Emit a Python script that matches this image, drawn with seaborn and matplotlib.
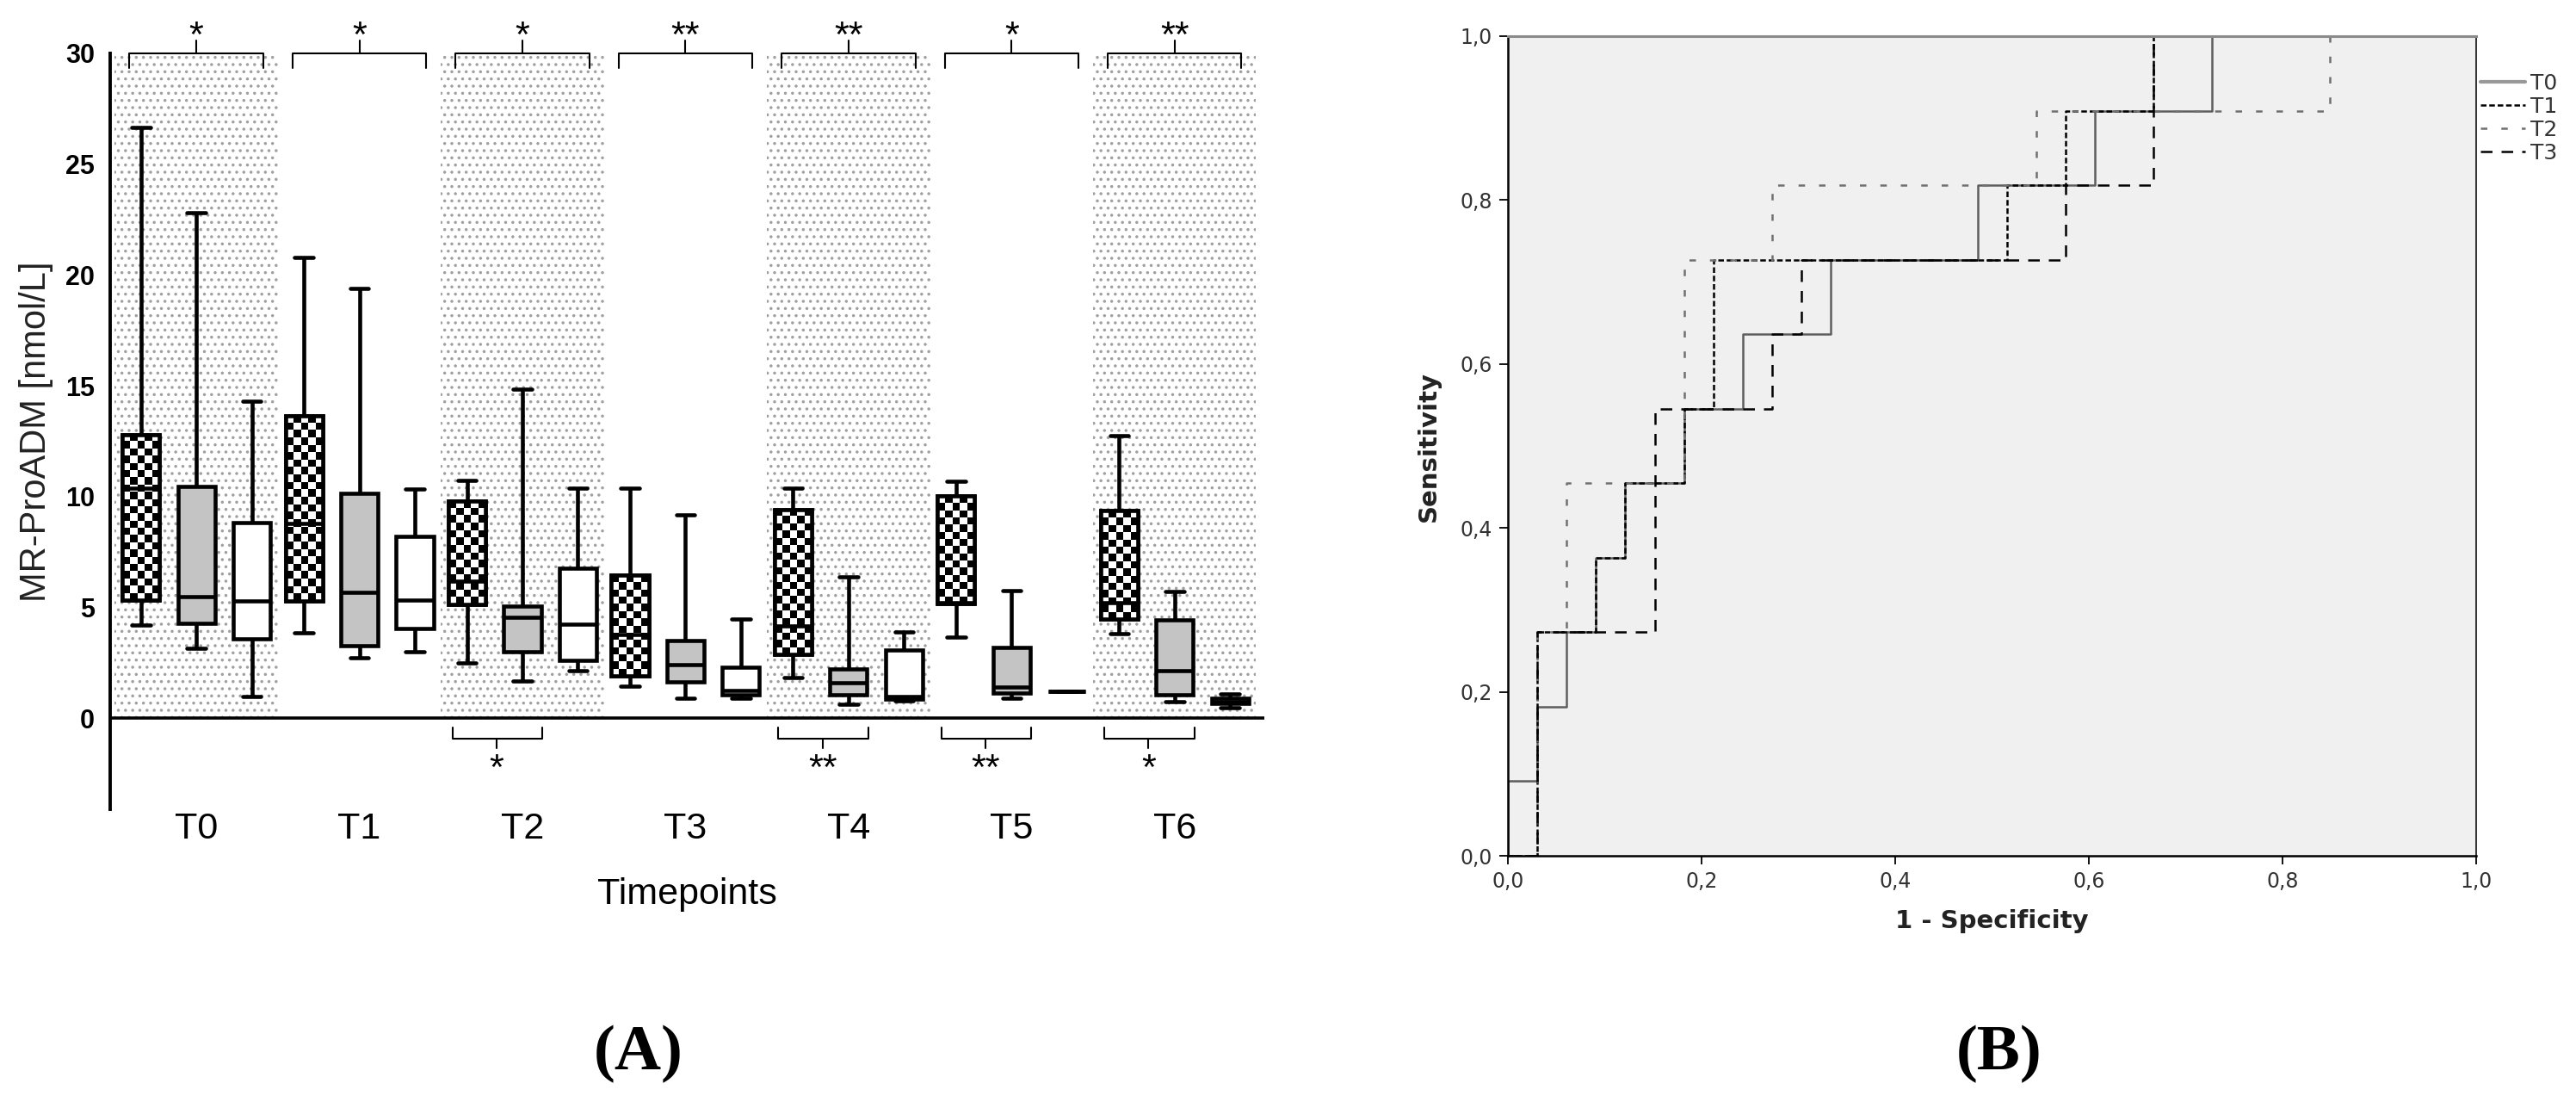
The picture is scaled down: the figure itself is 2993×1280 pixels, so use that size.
import numpy as np
import pandas as pd
import seaborn as sns
import matplotlib.pyplot as plt
from matplotlib.patches import PathPatch

sns.set_style('white')
plt.rcParams['font.family'] = ['Liberation Sans', 'DejaVu Sans']
plt.rcParams['hatch.linewidth'] = 1.3
plt.rcParams['text.color'] = 'black'
plt.rcParams['axes.labelcolor'] = 'black'
plt.rcParams['xtick.color'] = 'black'
plt.rcParams['ytick.color'] = 'black'

# ---------------- panel A data ----------------
timepoints = ['T0', 'T1', 'T2', 'T3', 'T4', 'T5', 'T6']
groups = ['G1', 'G2', 'G3']

# five-number summaries: min, q1, median, q3, max
g1_stats = [
    [4.2, 5.33, 10.4, 12.8, 26.65],
    [3.85, 5.3, 8.8, 13.66, 20.8],
    [2.49, 5.15, 6.19, 9.82, 10.73],
    [1.45, 1.91, 3.79, 6.45, 10.4],
    [1.84, 2.88, 4.18, 9.43, 10.4],
    [3.66, 5.19, 5.21, 10.04, 10.69],
    [3.81, 4.5, 5.21, 9.36, 12.74],
]
g2_stats = [
    [3.15, 4.3, 5.5, 10.47, 22.8],
    [2.75, 3.27, 5.7, 10.15, 19.4],
    [1.69, 3.01, 4.55, 5.08, 14.86],
    [0.93, 1.65, 2.42, 3.53, 9.17],
    [0.62, 1.06, 1.6, 2.23, 6.38],
    [0.93, 1.15, 1.4, 3.2, 5.76],
    [0.74, 1.06, 2.17, 4.44, 5.71],
]
g3_stats = [
    [1.0, 3.6, 5.3, 8.85, 14.3],
    [3.0, 4.05, 5.35, 8.2, 10.35],
    [2.17, 2.62, 4.24, 6.77, 10.4],
    [0.93, 1.06, 1.26, 2.3, 4.5],
    [0.8, 0.87, 1.0, 3.07, 3.92],
    [0.44, 1.22, 1.22, 1.22, 1.97],
    [0.48, 0.67, 0.77, 0.93, 1.09],
]
shaded_tps = ['T0', 'T2', 'T4', 'T6']
top_stars = ['*', '*', '*', '**', '**', '*', '**']
bottom_star_tps = ['T2', 'T4', 'T5', 'T6']
bottom_stars = ['*', '**', '**', '*']

# ---------------- panel B data (ROC, 33 negatives / 11 positives) ----------------
n_neg, n_pos = 33, 11
roc_fp = {
    'T0': [0, 0, 1, 1, 2, 2, 3, 3, 4, 4, 6, 6, 8, 8, 11, 11, 16, 16, 20, 20, 24, 24, 33],
    'T1': [0, 1, 1, 3, 3, 4, 4, 6, 6, 7, 7, 17, 17, 19, 19, 22, 22, 33],
    'T2': [0, 1, 1, 2, 2, 6, 6, 9, 9, 18, 18, 28, 28, 33],
    'T3': [0, 1, 1, 5, 5, 9, 9, 10, 10, 19, 19, 22, 22, 33],
}
roc_tp = {
    'T0': [0, 1, 1, 2, 2, 3, 3, 4, 4, 5, 5, 6, 6, 7, 7, 8, 8, 9, 9, 10, 10, 11, 11],
    'T1': [0, 0, 3, 3, 4, 4, 5, 5, 6, 6, 8, 8, 9, 9, 10, 10, 11, 11],
    'T2': [0, 0, 3, 3, 5, 5, 8, 8, 9, 9, 10, 10, 11, 11],
    'T3': [0, 0, 3, 3, 6, 6, 7, 7, 8, 8, 9, 9, 11, 11],
}
roc_ticks = [0.0, 0.2, 0.4, 0.6, 0.8, 1.0]
roc_ticklabels = ['0,0', '0,2', '0,4', '0,6', '0,8', '1,0']

rows = []
for g, stats in zip(groups, [g1_stats, g2_stats, g3_stats]):
    for tp, vals in zip(timepoints, stats):
        for v in vals:
            rows.append({'Timepoint': tp, 'Group': g, 'MR-proADM': v})
box_df = pd.DataFrame(rows)

roc_rows = []
for name in roc_fp:
    for fp, tp in zip(roc_fp[name], roc_tp[name]):
        roc_rows.append({'Curve': name, 'fpr': fp / n_neg, 'tpr': tp / n_pos})
roc_df = pd.DataFrame(roc_rows)

fig = plt.figure(figsize=(29.93, 12.8), dpi=100)

# ================= panel A =================
ax = fig.add_axes([0.0428, 0.2656, 0.448, 0.686])
shade_x = [timepoints.index(t) for t in shaded_tps]
ax.bar(shade_x, [30] * len(shade_x), width=1.0, color='white', edgecolor='#a0a0a0',
       hatch='..', linewidth=0, zorder=0)

sns.boxplot(data=box_df, x='Timepoint', y='MR-proADM', hue='Group', order=timepoints,
            hue_order=groups, palette={'G1': 'white', 'G2': '#c4c4c4', 'G3': 'white'},
            saturation=1, whis=np.inf, width=1.02, gap=0.33, linewidth=3.3,
            linecolor='black', showfliers=False, legend=False, ax=ax)

# checkerboard fill for the first group
for p in list(ax.patches):
    if not isinstance(p, PathPatch):
        continue
    ext = p.get_path().get_extents()
    cx = (ext.x0 + ext.x1) / 2
    if cx - round(cx) > -0.2:
        continue
    nrow = max(1, int(round((ext.y1 - ext.y0) / 0.33)))
    cells = np.indices((nrow, 5)).sum(axis=0) % 2
    im = ax.imshow(cells, extent=(ext.x0, ext.x1, ext.y0, ext.y1), cmap='gray_r',
                   interpolation='nearest', aspect='auto', origin='lower',
                   zorder=p.get_zorder() + 0.01)
    im.set_clip_path(p)
    ax.add_patch(PathPatch(p.get_path(), facecolor='none', edgecolor='black',
                           linewidth=p.get_linewidth(), zorder=p.get_zorder() + 0.02))

ax.axhline(0, color='black', lw=2.6, zorder=5)
ax.set_xlim(-0.528, 6.55)
ax.set_ylim(-4.1, 30)

# significance brackets
for i, s in enumerate(top_stars):
    ax.plot([i - 0.41, i - 0.41, i + 0.41, i + 0.41], [29.35, 30, 30, 29.35],
            color='black', lw=1.5, clip_on=False)
    ax.plot([i, i], [30, 30.6], color='black', lw=1.5, clip_on=False)
    ax.text(i, 29.95, s, ha='center', va='bottom', fontsize=31)
for t, s in zip(bottom_star_tps, bottom_stars):
    i = timepoints.index(t)
    ax.plot([i - 0.43, i - 0.43, i + 0.12, i + 0.12], [-0.4, -0.9, -0.9, -0.4],
            color='black', lw=1.5)
    ax.plot([i - 0.16, i - 0.16], [-0.9, -1.36], color='black', lw=1.5)
    ax.text(i - 0.16, -1.55, s, ha='center', va='top', fontsize=31)

for side in ['top', 'right', 'bottom']:
    ax.spines[side].set_visible(False)
ax.spines['left'].set_linewidth(2.8)
ax.spines['left'].set_color('black')
ax.set_yticks([0, 5, 10, 15, 20, 25, 30])
ax.tick_params(axis='y', length=10, width=2.4, direction='out', pad=3, labelsize=22)
for lbl in ax.get_yticklabels():
    lbl.set_fontweight('bold')
ax.tick_params(axis='x', length=0, pad=2, labelsize=31)
ax.set_xlabel('Timepoints', fontsize=31, labelpad=26)
ax.set_ylabel('MR-ProADM [nmol/L]', fontsize=30, labelpad=10, color='#222222')

# ================= panel B =================
bx = fig.add_axes([0.5854, 0.2234, 0.3759, 0.7438])
bx.set_facecolor('#f0f0f0')
sns.lineplot(data=roc_df, x='fpr', y='tpr', hue='Curve', style='Curve',
             palette={'T0': '#5e5e5e', 'T1': 'black', 'T2': '#707070', 'T3': 'black'},
             dashes={'T0': '', 'T1': (2.6, 1.3), 'T2': (3, 6.5), 'T3': (5.4, 4.2)},
             sort=False, estimator=None, linewidth=1.8, ax=bx)
bx.set_xlim(0, 1)
bx.set_ylim(0, 1)
bx.set_xticks(roc_ticks)
bx.set_xticklabels(roc_ticklabels, family='DejaVu Sans')
bx.set_yticks(roc_ticks)
bx.set_yticklabels(roc_ticklabels, family='DejaVu Sans')
bx.tick_params(direction='out', length=7, width=1.3, labelsize=17, labelcolor='#333333',
               pad=6, left=True, bottom=True)
bx.set_xlabel('1 - Specificity', fontsize=21, fontweight='bold', family='DejaVu Sans',
              labelpad=14, color='#222222')
bx.set_ylabel('Sensitivity', fontsize=21, fontweight='bold', family='DejaVu Sans',
              labelpad=16, color='#222222')
for side in ['left', 'bottom']:
    bx.spines[side].set_color('black')
    bx.spines[side].set_linewidth(1.8)
bx.spines['right'].set_color('#222222')
bx.spines['right'].set_linewidth(1.3)
bx.spines['top'].set_color('#8a8a8a')
bx.spines['top'].set_linewidth(2.2)

handles, labels = bx.get_legend_handles_labels()
keep = [(h, l) for h, l in zip(handles, labels) if l in roc_fp]
leg = bx.legend([h for h, l in keep], [l for h, l in keep], loc='upper left',
                bbox_to_anchor=(1.004, 0.955), frameon=False, handlelength=2.1,
                labelspacing=0.12, handletextpad=0.25, borderaxespad=0, borderpad=0,
                labelcolor='#333333', prop={'family': 'DejaVu Sans', 'size': 18})
leg.get_lines()[0].set_color('#999999')
leg.get_lines()[0].set_linewidth(3)

fig.text(742 / 2993, 1 - 1224 / 1280, '(A)', ha='center', va='center', fontsize=54,
         fontweight='bold', family='Liberation Serif', color='black')
fig.text(2323 / 2993, 1 - 1224 / 1280, '(B)', ha='center', va='center', fontsize=54,
         fontweight='bold', family='Liberation Serif', color='black')

fig.savefig('out.png', dpi=100)
